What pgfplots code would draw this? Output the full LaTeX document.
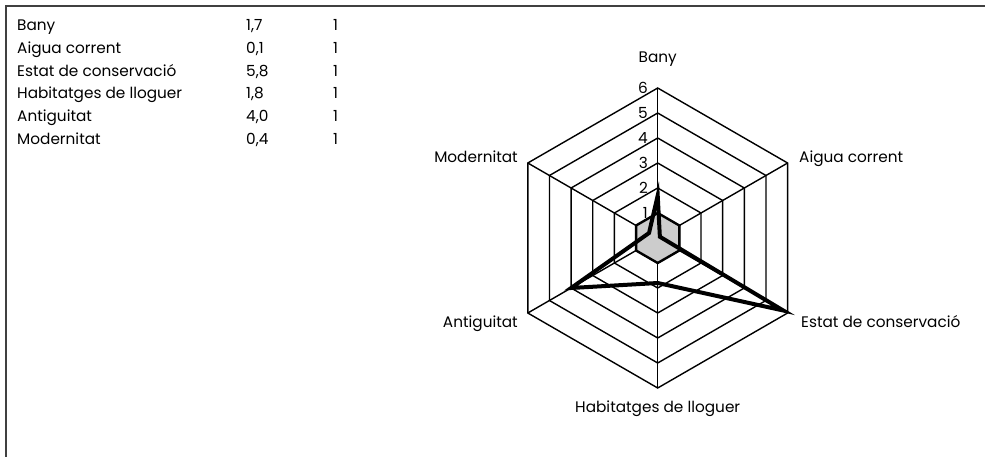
\documentclass[border=0pt]{standalone}
\usepackage{fontspec}
\setmainfont{Poppins}
\usepackage{pgfplots}
\pgfplotsset{compat=1.18}
\begin{document}
\begin{tikzpicture}[x=1pt,y=1pt]
\useasboundingbox (0,0) rectangle (985,456);
\fontsize{15.3}{18}\selectfont
% frame
\draw[line width=1.7pt, black!75] (5.8,-20) -- (5.8,450.2) -- (1000,450.2);
% table
\foreach \name/\val/\yy in {Bany/{1,7}/425, Aigua corrent/{0,1}/402, Estat de conservació/{5,8}/379, Habitatges de lloguer/{1,8}/357, Antiguitat/{4,0}/334, Modernitat/{0,4}/311}{
  \node[anchor=base west, inner sep=0pt] at (17,\yy) {\name};
  \node[anchor=base west, inner sep=0pt] at (246,\yy) {\val};
  \node[anchor=base west, inner sep=0pt] at (333,\yy) {1};
}
\begin{axis}[at={(657.7pt,218pt)}, anchor=center, x=25pt, y=25pt,
  xmin=-6, xmax=6, ymin=-6, ymax=6, hide axis, clip=false]
  % hexagonal grid
  \pgfplotsinvokeforeach{1,2,3,4,5,6}{
    \addplot[black, line width=1.4pt, line join=miter, mark=none, data cs=polar]
      coordinates {(90,#1)(30,#1)(-30,#1)(-90,#1)(-150,#1)(150,#1)} -- cycle;
  }
  \pgfplotsinvokeforeach{90,30,-30,-90,-150,150}{
    \addplot[black, line width=1.4pt, mark=none, data cs=polar]
      coordinates {(#1,0)(#1,6)};
  }
  % series 2 (all 1)
  \addplot[fill=gray!40, draw=black, line width=2.4pt, line join=miter, mark=none, data cs=polar]
    coordinates {(90,1)(30,1)(-30,1)(-90,1)(-150,1)(150,1)} -- cycle;
  % series 1
  \addplot[black, line width=4pt, line join=miter, mark=none, data cs=polar]
    coordinates {(90,1.7)(30,0.1)(-30,5.8)(-90,1.8)(-150,4.0)(150,0.4)} -- cycle;
\end{axis}
% tick labels
\foreach \k in {1,...,6}{
  \node[anchor=east, inner sep=0pt] at (648,{218+25*\k}) {\k};
}
% category labels
\node[anchor=base, inner sep=0pt] at (657.7,393) {Bany};
\node[anchor=base west, inner sep=0pt] at (799,294) {Aigua corrent};
\node[anchor=base west, inner sep=0pt] at (801,129) {Estat de conservació};
\node[anchor=base, inner sep=0pt] at (657.7,44) {Habitatges de lloguer};
\node[anchor=base east, inner sep=0pt] at (518,129) {Antiguitat};
\node[anchor=base east, inner sep=0pt] at (518,294) {Modernitat};
\end{tikzpicture}
\end{document}
